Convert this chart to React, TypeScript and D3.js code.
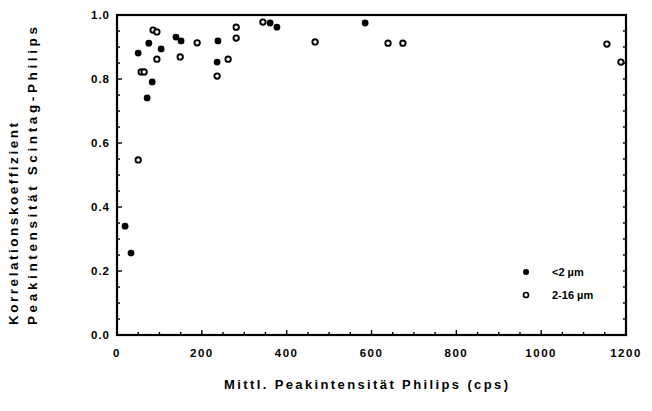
import React, { useEffect, useRef } from "react";
import * as d3 from "d3";

// <2 µm (filled)
const fineX = [139, 151, 238, 361, 377, 75, 50, 104, 236, 83, 71, 19, 33, 585];
const fineY = [0.931, 0.919, 0.919, 0.975, 0.962, 0.912, 0.881, 0.894, 0.853, 0.791, 0.741, 0.34, 0.256, 0.975];
// 2-16 µm (open)
const coarseX = [85, 94, 189, 281, 281, 344, 467, 94, 149, 262, 57, 64, 236, 50, 639, 674, 1155, 1188];
const coarseY = [0.953, 0.947, 0.913, 0.962, 0.928, 0.978, 0.916, 0.862, 0.869, 0.862, 0.822, 0.822, 0.809, 0.547, 0.912, 0.912, 0.909, 0.853];

const xTicks = [0, 200, 400, 600, 800, 1000, 1200];
const yTicks = [0, 0.2, 0.4, 0.6, 0.8, 1.0];
const yTickLabels = ["0.0", "0.2", "0.4", "0.6", "0.8", "1.0"];
const legendLabels = ["<2 µm", "2-16 µm"];
const xTitle = "Mittl. Peakintensität Philips (cps)";
const yTitle1 = "Korrelationskoeffizient";
const yTitle2 = "Peakintensität Scintag-Philips";

const W = 652, H = 411;
const L = 117, R = 626, T = 15, B = 335;
const FONT = "'Liberation Sans', Arial, sans-serif";

export default function App() {
  const ref = useRef<SVGSVGElement>(null);
  useEffect(() => {
    const svg = d3.select(ref.current);
    svg.selectAll("*").remove();
    const x = d3.scaleLinear().domain([0, 1200]).range([L, R]);
    const y = d3.scaleLinear().domain([0, 1]).range([B, T]);

    // frame
    svg.append("rect").attr("x", L).attr("y", T).attr("width", R - L).attr("height", B - T)
      .attr("fill", "none").attr("stroke", "#000").attr("stroke-width", 2.2);

    // ticks
    const g = svg.append("g").attr("stroke", "#000").attr("stroke-width", 1.4);
    d3.range(0, 1201, 50).forEach((v) => {
      const major = v % 200 === 0;
      const len = major ? 5 : 3;
      g.append("line").attr("x1", x(v)).attr("x2", x(v)).attr("y1", B).attr("y2", B - len);
    });
    d3.range(0, 21).forEach((i) => {
      const v = i * 0.05;
      const major = i % 4 === 0;
      const len = major ? 5 : 3;
      g.append("line").attr("x1", L).attr("x2", L + len).attr("y1", y(v)).attr("y2", y(v));
      g.append("line").attr("x1", R).attr("x2", R - 3).attr("y1", y(v)).attr("y2", y(v));
    });

    // tick labels
    svg.append("g").selectAll("text").data(xTicks).join("text")
      .attr("x", (d) => x(d)).attr("y", 357).attr("text-anchor", "middle")
      .attr("font-family", FONT).attr("font-weight", "bold").attr("font-size", 11.5)
      .attr("letter-spacing", 1.5).text((d) => String(d));
    svg.append("g").selectAll("text").data(yTicks).join("text")
      .attr("x", 110).attr("y", (d) => y(d) + 4).attr("text-anchor", "end")
      .attr("font-family", FONT).attr("font-weight", "bold").attr("font-size", 11.5)
      .attr("letter-spacing", 1).text((d, i) => yTickLabels[i]);

    // titles
    svg.append("text").attr("x", 366).attr("y", 389).attr("text-anchor", "middle")
      .attr("font-family", FONT).attr("font-weight", "bold").attr("font-size", 13)
      .attr("textLength", 284).attr("lengthAdjust", "spacing").text(xTitle);
    svg.append("text").attr("transform", "translate(18,325) rotate(-90)")
      .attr("font-family", FONT).attr("font-weight", "bold").attr("font-size", 13.5)
      .attr("textLength", 202).attr("lengthAdjust", "spacing").text(yTitle1);
    svg.append("text").attr("transform", "translate(37,325) rotate(-90)")
      .attr("font-family", FONT).attr("font-weight", "bold").attr("font-size", 13.5)
      .attr("textLength", 298).attr("lengthAdjust", "spacing").text(yTitle2);

    // points
    svg.append("g").selectAll("circle").data(fineX.map((v, i) => [v, fineY[i]])).join("circle")
      .attr("cx", (d) => x(d[0])).attr("cy", (d) => y(d[1])).attr("r", 3.4).attr("fill", "#000");
    svg.append("g").selectAll("circle").data(coarseX.map((v, i) => [v, coarseY[i]])).join("circle")
      .attr("cx", (d) => x(d[0])).attr("cy", (d) => y(d[1])).attr("r", 2.7)
      .attr("fill", "#fff").attr("stroke", "#000").attr("stroke-width", 1.9);

    // legend
    const lg = svg.append("g");
    lg.append("circle").attr("cx", 526).attr("cy", 272).attr("r", 3).attr("fill", "#000");
    lg.append("circle").attr("cx", 526).attr("cy", 295).attr("r", 2.5).attr("fill", "#fff")
      .attr("stroke", "#000").attr("stroke-width", 1.7);
    legendLabels.forEach((t, i) => {
      lg.append("text").attr("x", 552).attr("y", 276 + i * 23)
        .attr("font-family", FONT).attr("font-weight", "bold").attr("font-size", 11).text(t);
    });
  }, []);
  return (
    <svg ref={ref} width={W} height={H}
      style={{ position: "absolute", left: 0, top: 0, background: "#fff" }} />
  );
}
